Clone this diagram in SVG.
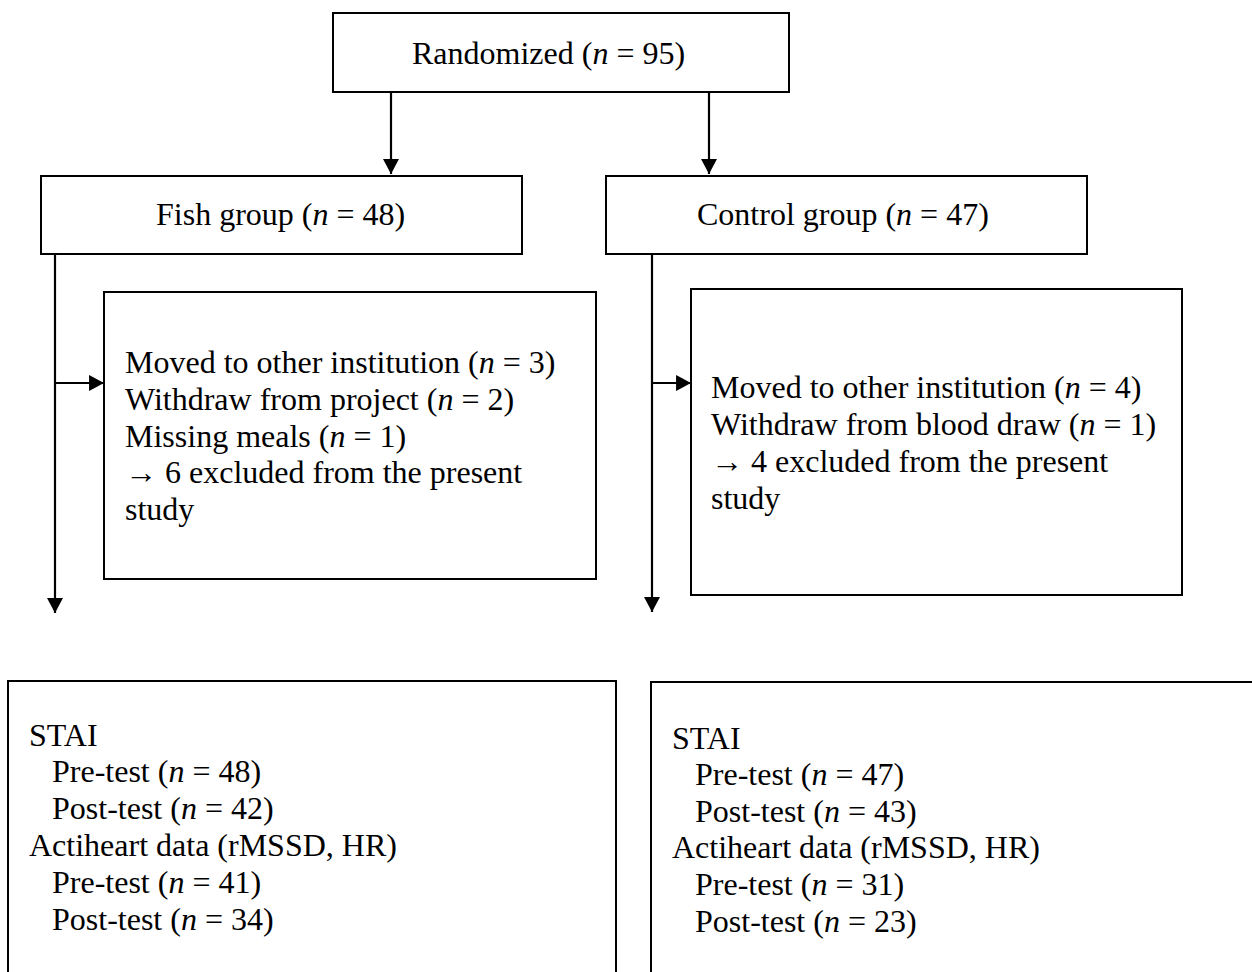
<svg xmlns="http://www.w3.org/2000/svg" width="1252" height="972" viewBox="0 0 1252 972">
<style>
.box{fill:#fff;stroke:#000;stroke-width:2}
.ln{fill:none;stroke:#000;stroke-width:2.2}
text{font-family:"Liberation Serif","Times New Roman",serif;font-size:32px;fill:#000}
.i{font-style:italic}
</style>
<defs>
<marker id="ah" markerUnits="userSpaceOnUse" markerWidth="16" markerHeight="16" viewBox="0 0 14 15" refX="14" refY="7.5" orient="auto">
<path d="M0,0 L14,7.5 L0,15 Z" fill="#000"/>
</marker>
</defs>
<g id="connectors">
<line class="ln" x1="391" y1="92" x2="391" y2="174" marker-end="url(#ah)"/>
<line class="ln" x1="709" y1="92" x2="709" y2="174" marker-end="url(#ah)"/>
<line class="ln" x1="55" y1="254" x2="55" y2="613" marker-end="url(#ah)"/>
<line class="ln" x1="55" y1="383" x2="104" y2="383" marker-end="url(#ah)"/>
<line class="ln" x1="652" y1="254" x2="652" y2="612" marker-end="url(#ah)"/>
<line class="ln" x1="652" y1="383" x2="691" y2="383" marker-end="url(#ah)"/>
</g>
<g id="randomized">
<rect class="box" x="333" y="13" width="456" height="79"/>
<text x="412" y="64">Randomized (<tspan class="i">n</tspan> = 95)</text>
</g>
<g id="fish">
<rect class="box" x="41" y="176" width="481" height="78"/>
<text x="156" y="225">Fish group (<tspan class="i">n</tspan> = 48)</text>
</g>
<g id="control">
<rect class="box" x="606" y="176" width="481" height="78"/>
<text x="697" y="225">Control group (<tspan class="i">n</tspan> = 47)</text>
</g>
<g id="fish-excluded">
<rect class="box" x="104" y="292" width="492" height="287"/>
<text x="125" y="373">Moved to other institution (<tspan class="i">n</tspan> = 3)</text>
<text x="125" y="410">Withdraw from project (<tspan class="i">n</tspan> = 2)</text>
<text x="125" y="447">Missing meals (<tspan class="i">n</tspan> = 1)</text>
<text x="125" y="483">→ 6 excluded from the present</text>
<text x="125" y="520">study</text>
</g>
<g id="control-excluded">
<rect class="box" x="691" y="289" width="491" height="306"/>
<text x="711" y="398">Moved to other institution (<tspan class="i">n</tspan> = 4)</text>
<text x="711" y="435">Withdraw from blood draw (<tspan class="i">n</tspan> = 1)</text>
<text x="711" y="472">→ 4 excluded from the present</text>
<text x="711" y="509">study</text>
</g>
<g id="fish-data">
<rect class="box" x="8" y="681" width="608" height="310"/>
<text x="29" y="746">STAI</text>
<text x="52" y="782">Pre-test (<tspan class="i">n</tspan> = 48)</text>
<text x="52" y="819">Post-test (<tspan class="i">n</tspan> = 42)</text>
<text x="29" y="856">Actiheart data (rMSSD, HR)</text>
<text x="52" y="893">Pre-test (<tspan class="i">n</tspan> = 41)</text>
<text x="52" y="930">Post-test (<tspan class="i">n</tspan> = 34)</text>
</g>
<g id="control-data">
<rect class="box" x="651" y="682" width="620" height="310"/>
<text x="672" y="749">STAI</text>
<text x="695" y="785">Pre-test (<tspan class="i">n</tspan> = 47)</text>
<text x="695" y="822">Post-test (<tspan class="i">n</tspan> = 43)</text>
<text x="672" y="858">Actiheart data (rMSSD, HR)</text>
<text x="695" y="895">Pre-test (<tspan class="i">n</tspan> = 31)</text>
<text x="695" y="932">Post-test (<tspan class="i">n</tspan> = 23)</text>
</g>
</svg>
